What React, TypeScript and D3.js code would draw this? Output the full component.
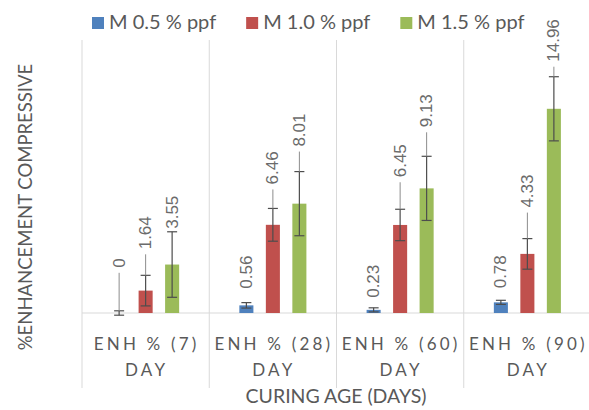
import React, { useEffect, useRef } from 'react';
import * as d3 from 'd3';

// chart data
const categories = ['ENH % (7)', 'ENH % (28)', 'ENH % (60)', 'ENH % (90)'];
const categorySub = 'DAY';
const seriesNames = ['M 0.5 % ppf', 'M 1.0 % ppf', 'M 1.5 % ppf'];
const m05 = [0, 0.56, 0.23, 0.78];
const m10 = [1.64, 6.46, 6.45, 4.33];
const m15 = [3.55, 8.01, 9.13, 14.96];
const m05Err = [0.16, 0.2, 0.15, 0.15];
const m10Err = [1.12, 1.2, 1.15, 1.12];
const m15Err = [2.4, 2.35, 2.35, 2.35];
const yTitle = '%ENHANCEMENT COMPRESSIVE';
const xTitle = 'CURING AGE (DAYS)';

// how far (px) each data label was dragged above its error bar
const labelLift = [
  [43, 14, 10, 12],
  [26, 24, 32, 31],
  [3, 25, 29, 15]
];

const colors = ['#4f81bd', '#c0504d', '#9bbb59'];
const textColor = '#595959';

function App() {
  const chartRef = useRef<HTMLDivElement>(null);

  useEffect(() => {
    const width = 589;
    const height = 410;
    const margin = { left: 82, right: 591, top: 40, bottom: 313 };

    d3.select(chartRef.current).select('svg').remove();

    const svg = d3.select(chartRef.current)
      .append('svg')
      .attr('width', width)
      .attr('height', height)
      .style('position', 'absolute')
      .style('left', 0)
      .style('top', 0)
      .style('background', '#fff');

    const values = [m05, m10, m15];
    const errors = [m05Err, m10Err, m15Err];

    const x = d3.scaleBand()
      .domain(categories)
      .range([margin.left, margin.right])
      .padding(0);

    const inner = d3.scaleBand()
      .domain(seriesNames)
      .range([-39.75, 39.75])
      .paddingInner(0.47)
      .paddingOuter(0.235);

    const y = d3.scaleLinear()
      .domain([0, 20])
      .range([margin.bottom, margin.top]);

    // category dividers
    const dividers = categories.map(c => x(c) as number);
    svg.selectAll('.divider')
      .data(dividers)
      .enter()
      .append('line')
      .attr('x1', d => d)
      .attr('x2', d => d)
      .attr('y1', margin.top)
      .attr('y2', 388)
      .attr('stroke', '#d9d9d9')
      .attr('stroke-width', 1);

    // baseline
    svg.append('line')
      .attr('x1', margin.left)
      .attr('x2', width)
      .attr('y1', y(0))
      .attr('y2', y(0))
      .attr('stroke', '#d9d9d9')
      .attr('stroke-width', 1);

    const center = (c: string) => (x(c) as number) + x.bandwidth() / 2;

    // bars, error bars and labels per series
    seriesNames.forEach((name, si) => {
      const rows = categories.map((c, i) => ({
        c,
        v: values[si][i],
        e: errors[si][i],
        lift: labelLift[si][i]
      }));
      const g = svg.append('g');
      const cx = (c: string) => center(c) + (inner(name) as number) + inner.bandwidth() / 2;

      g.selectAll('rect')
        .data(rows)
        .enter()
        .append('rect')
        .attr('x', d => cx(d.c) - inner.bandwidth() / 2)
        .attr('width', inner.bandwidth())
        .attr('y', d => y(d.v))
        .attr('height', d => y(0) - y(d.v))
        .attr('fill', colors[si]);

      const eb = g.selectAll('.err')
        .data(rows)
        .enter()
        .append('g');
      eb.append('line')
        .attr('x1', d => cx(d.c))
        .attr('x2', d => cx(d.c))
        .attr('y1', d => y(d.v - d.e))
        .attr('y2', d => y(d.v + d.e))
        .attr('stroke', '#4d4d4d')
        .attr('stroke-width', 1.2);
      [-1, 1].forEach(sign => {
        eb.append('line')
          .attr('x1', d => cx(d.c) - 5)
          .attr('x2', d => cx(d.c) + 5)
          .attr('y1', d => y(d.v + sign * d.e))
          .attr('y2', d => y(d.v + sign * d.e))
          .attr('stroke', '#4d4d4d')
          .attr('stroke-width', 1.2);
      });

      // leader lines for labels moved away from the bar
      g.selectAll('.leader')
        .data(rows.filter(d => d.lift >= 15))
        .enter()
        .append('line')
        .attr('x1', d => cx(d.c))
        .attr('x2', d => cx(d.c))
        .attr('y1', d => y(d.v + d.e))
        .attr('y2', d => y(d.v + d.e) - d.lift + 5)
        .attr('stroke', '#8c8c8c')
        .attr('stroke-width', 1);

      g.selectAll('.lbl')
        .data(rows)
        .enter()
        .append('text')
        .attr('transform', d => `translate(${cx(d.c)}, ${y(d.v + d.e) - d.lift}) rotate(-90)`)
        .attr('dominant-baseline', 'central')
        .attr('text-anchor', 'start')
        .style('font-family', '"Liberation Sans", Arial, sans-serif')
        .style('font-size', '17px')
        .style('fill', '#6b6b6b')
        .text(d => d.v);
    });

    // category labels
    const catText = svg.selectAll('.cat')
      .data(categories)
      .enter()
      .append('g');
    catText.append('text')
      .attr('x', d => center(d) + 1)
      .attr('y', 350)
      .attr('text-anchor', 'middle')
      .style('font-family', 'Lato, sans-serif')
      .style('font-size', '17px')
      .style('letter-spacing', '3.2px')
      .style('fill', textColor)
      .text(d => d);
    catText.append('text')
      .attr('x', d => center(d) + 1)
      .attr('y', 376)
      .attr('text-anchor', 'middle')
      .style('font-family', 'Lato, sans-serif')
      .style('font-size', '17px')
      .style('letter-spacing', '3.2px')
      .style('fill', textColor)
      .text(categorySub);

    // axis titles
    svg.append('text')
      .attr('x', 336)
      .attr('y', 403)
      .attr('text-anchor', 'middle')
      .style('font-family', 'Lato, sans-serif')
      .style('font-size', '19.5px')
      .style('fill', textColor)
      .text(xTitle);

    svg.append('text')
      .attr('transform', 'translate(32, 207) rotate(-90)')
      .attr('text-anchor', 'middle')
      .style('font-family', 'Lato, sans-serif')
      .style('font-size', '18.5px')
      .style('fill', textColor)
      .text(yTitle);

    // legend
    let lx = 92;
    seriesNames.forEach((name, si) => {
      svg.append('rect')
        .attr('x', lx)
        .attr('y', 17)
        .attr('width', 12)
        .attr('height', 12)
        .attr('fill', colors[si]);
      const t = svg.append('text')
        .attr('x', lx + 17)
        .attr('y', 29)
        .style('font-family', 'Lato, sans-serif')
        .style('font-size', '20px')
        .style('fill', textColor)
        .text(name);
      const w = (t.node() as SVGTextElement).getComputedTextLength();
      lx += 17 + w + 30;
    });
  }, []);

  return <div ref={chartRef}></div>;
}

export default App;
